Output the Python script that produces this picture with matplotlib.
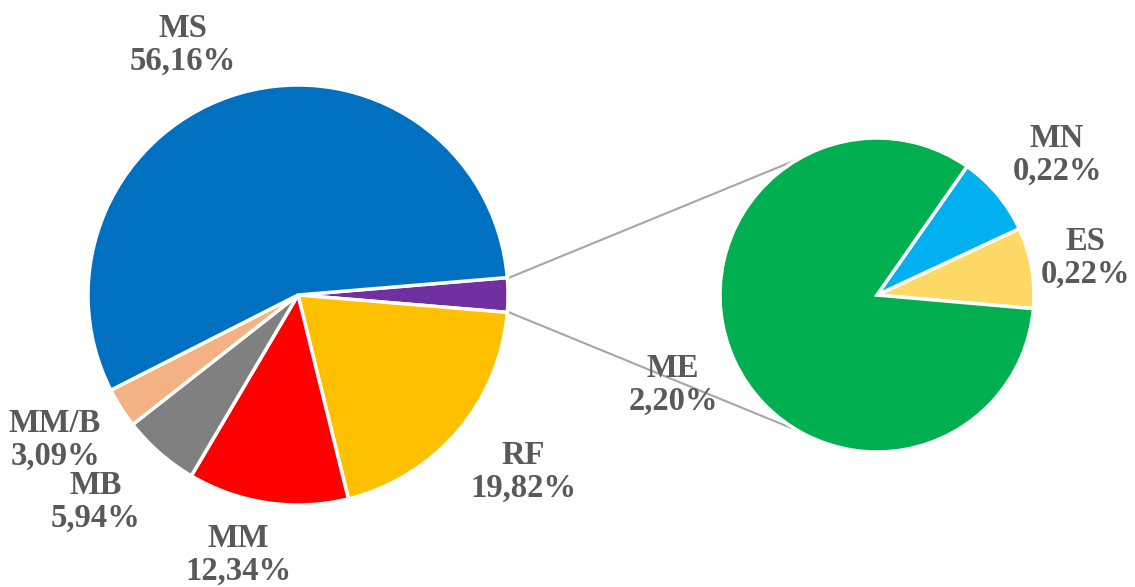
import numpy as np
import matplotlib.pyplot as plt

# main pie categories (clockwise after the split slice)
main_labels = ['RF', 'MM', 'MB', 'MM/B', 'MS']
main_values = [19.82, 12.34, 5.94, 3.09, 56.16]
main_colors = ['#FFC000', '#FF0000', '#808080', '#F4B183', '#0070C0']
other_color = '#7030A0'

# secondary pie (breakdown of the split slice)
sub_labels = ['ES', 'MN', 'ME']
sub_values = [0.22, 0.22, 2.20]
sub_colors = ['#FFD966', '#00B0F0', '#00B050']

W, H = 1135, 587
fig = plt.figure(figsize=(W / 100, H / 100), dpi=100)
ax = fig.add_axes([0, 0, 1, 1])

text_color = '#595959'
font = dict(family='Liberation Serif', weight='bold', size=23.5,
            color=text_color, ha='center', va='center', linespacing=1.1)

# geometry (pixel coordinates, y up)
c1, r1 = (298, H - 295), 210
c2, r2 = (877, H - 295), 157

other_value = sum(sub_values)
values = [other_value] + main_values
total = sum(values)
half = 360 * other_value / total / 2

ax.pie(values, colors=[other_color] + main_colors, center=c1, radius=r1,
       startangle=half, counterclock=False,
       wedgeprops=dict(edgecolor='white', linewidth=2.5))

ax.pie(sub_values, colors=sub_colors, center=c2, radius=r2,
       startangle=-5, counterclock=True,
       wedgeprops=dict(edgecolor='white', linewidth=2.5))

# connector lines
for a1, a2 in [(half, 120), (-half, 240)]:
    p1 = (c1[0] + r1 * np.cos(np.radians(a1)), c1[1] + r1 * np.sin(np.radians(a1)))
    p2 = (c2[0] + r2 * np.cos(np.radians(a2)), c2[1] + r2 * np.sin(np.radians(a2)))
    ax.plot([p1[0] + 2, p2[0]], [p1[1], p2[1]], color='#A6A6A6', lw=1.5, zorder=0)


def fmt(lab, v):
    return f"{lab}\n{v:.2f}%".replace('.', ',')


# label positions (pixel coords from top)
main_pos = {'MS': (183, 45), 'RF': (523, 472), 'MM': (238, 555),
            'MB': (96, 502), 'MM/B': (55, 440)}
sub_pos = {'ME': (673, 385), 'MN': (1057, 155), 'ES': (1085, 258)}

for lab, v in zip(main_labels, main_values):
    x, y = main_pos[lab]
    ax.text(x, H - y, fmt(lab, v), **font)
for lab, v in zip(sub_labels, sub_values):
    x, y = sub_pos[lab]
    ax.text(x, H - y, fmt(lab, v), **font)

ax.set_xlim(0, W)
ax.set_ylim(0, H)
ax.set_aspect('auto')
ax.axis('off')

fig.savefig('out.png', dpi=100, facecolor='white')
